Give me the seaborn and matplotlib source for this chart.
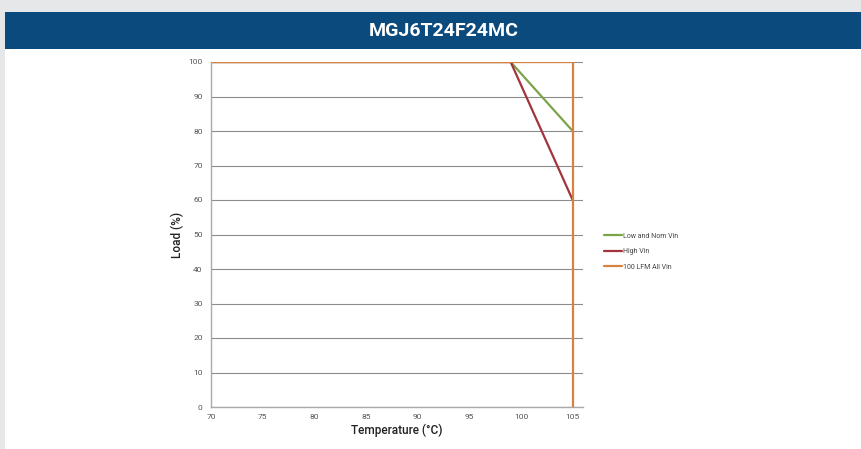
import matplotlib
matplotlib.use("Agg")
import matplotlib.pyplot as plt
import seaborn as sns
import pandas as pd
from matplotlib.patches import Rectangle

sns.set_theme(style="white")
plt.rcParams['font.family'] = ['Roboto', 'DejaVu Sans']

title = "MGJ6T24F24MC"
series_names = ["Low and Nom Vin", "High Vin", "100 LFM All Vin"]
low_temp = [70, 99, 105]
low_load = [100, 100, 80]
high_temp = [70, 99, 105]
high_load = [100, 100, 60]
lfm_temp = [70, 105, 105]
lfm_load = [100, 100, 0]
colors = ["#7ba448", "#a2353c", "#d9823f"]
x_ticks = [70, 75, 80, 85, 90, 95, 100, 105]
y_ticks = [0, 10, 20, 30, 40, 50, 60, 70, 80, 90, 100]

rows = []
for name, xs, ys in zip(series_names, [low_temp, high_temp, lfm_temp], [low_load, high_load, lfm_load]):
    for i, (x, y) in enumerate(zip(xs, ys)):
        rows.append({"series": name, "order": i, "Temperature": x, "Load": y})
df = pd.DataFrame(rows)

fig = plt.figure(figsize=(8.61, 4.49), dpi=100)
fig.patch.set_facecolor("#e6e7e9")
# white panel
fig.add_artist(Rectangle((5/861, 0), 1, 1 - 12/449, transform=fig.transFigure,
                         facecolor="white", edgecolor="none", zorder=0))
# header band
fig.add_artist(Rectangle((5/861, 1 - 49/449), 1, 37/449, transform=fig.transFigure,
                         facecolor="#0a4a7c", edgecolor="none", zorder=1))
fig.text(444/861, 1 - 31/449, title, color="white", fontsize=14, fontweight="bold",
         ha="center", va="center", zorder=2)

ax = fig.add_axes([211/861, 1 - 407/449, (583 - 211)/861, (407 - 62)/449])
ax.set_facecolor("white")
sns.lineplot(data=df, x="Temperature", y="Load", hue="series", hue_order=series_names,
             palette=colors, sort=False, estimator=None, units="series", ax=ax,
             linewidth=1.6, legend=True)

ax.set_xlim(70, 106)
ax.set_ylim(0, 100)
ax.set_xticks(x_ticks)
ax.set_yticks(y_ticks)
ax.tick_params(axis="both", labelsize=6, colors="#555555", length=3, width=0.8, direction="out", pad=2)
ax.tick_params(axis="y", length=4)
ax.yaxis.grid(True, color="#8c8c8c", linewidth=0.8)
ax.set_axisbelow(True)
for s in ["top", "right"]:
    ax.spines[s].set_visible(False)
for s in ["left", "bottom"]:
    ax.spines[s].set_color("#aaaaaa")
    ax.spines[s].set_linewidth(1.0)
ax.set_xlabel("Temperature (°C)", fontsize=8.5, fontweight="medium", color="#222222", labelpad=3)
ax.set_ylabel("Load (%)", fontsize=8.5, fontweight="medium", color="#222222", labelpad=3)

leg = ax.legend(loc="center left", bbox_to_anchor=(1.04, 0.45), frameon=False,
                fontsize=5, handlelength=2.6, handletextpad=0.1, labelspacing=1.2)
for t in leg.get_texts():
    t.set_color("#444444")

fig.savefig("out.png", dpi=100, facecolor=fig.get_facecolor())
